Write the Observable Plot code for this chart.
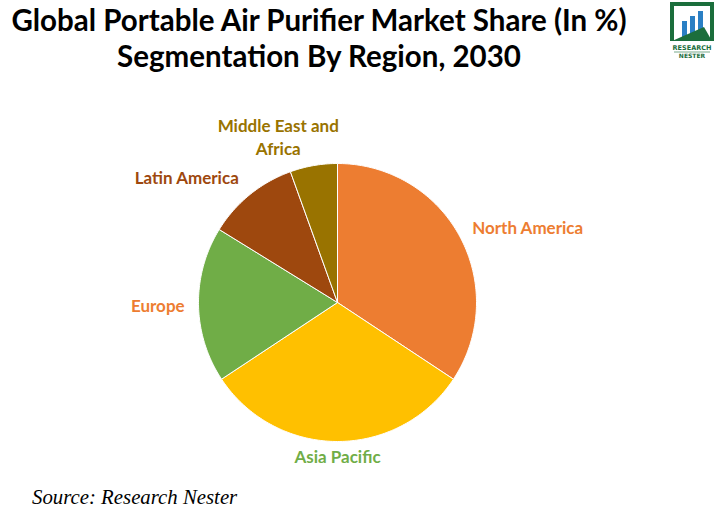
<!DOCTYPE html>
<html>
<head>
<meta charset="utf-8">
<script src="https://cdn.jsdelivr.net/npm/d3@7"></script>
<script src="https://cdn.jsdelivr.net/npm/@observablehq/plot@0.6"></script>
<style>
  html, body { margin: 0; padding: 0; background: #fff; }
  #wrap { position: relative; width: 722px; height: 511px; overflow: hidden; }
  #title { position: absolute; left: 0; top: 2px; width: 638px; text-align: center;
           font-family: Lato, "Open Sans", sans-serif; font-weight: 700; font-size: 29.5px;
           line-height: 36px; color: #000; }
  #source { position: absolute; left: 32px; top: 485px; font-family: "Liberation Serif", serif;
            font-style: italic; font-size: 20.8px; color: #000; }
  #logo { position: absolute; left: 668px; top: 1px; }
  #chart { position: absolute; left: 0; top: 0; }
</style>
</head>
<body>
<div id="wrap">
  <div id="chart"></div>
  <div id="title">Global Portable Air Purifier Market Share (In %)<br>Segmentation By Region, 2030</div>
  <svg id="logo" width="50" height="58" viewBox="0 0 50 58">
    <path d="M4 40 L4 3 L44 3 L44 40" fill="none" stroke="#1b6e3c" stroke-width="4"/>
    <rect x="14" y="20" width="5" height="20" fill="#2a7fc4"/>
    <rect x="22" y="15" width="5" height="25" fill="#2a7fc4"/>
    <rect x="30" y="10" width="5" height="30" fill="#2a7fc4"/>
    <path d="M4 40 L36 26 L44 40 Z" fill="#1b6e3c"/>
    <text x="24" y="49" text-anchor="middle" font-family="DejaVu Sans" font-size="6.5" font-weight="700" fill="#1b6e3c">RESEARCH</text>
    <line x1="6" y1="51" x2="42" y2="51" stroke="#1b6e3c" stroke-width="0.6"/>
    <text x="24" y="57" text-anchor="middle" font-family="DejaVu Sans" font-size="6" font-weight="700" fill="#1b6e3c">NESTER</text>
  </svg>
  <div id="source">Source: Research Nester</div>
</div>
<script>
// ---- data ----
const regions = ["North America", "Asia Pacific", "Europe", "Latin America", "Middle East and Africa"];
const shares = [34.3, 31.4, 18.1, 10.7, 5.5];
const sliceColors = ["#ED7D31", "#FFC000", "#70AD47", "#9E480E", "#997300"];
const labelColors = ["#ED7D31", "#70AD47", "#ED7D31", "#9E480E", "#997300"];

// ---- layout (not data) ----
const W = 722, H = 511, cx = 337, cy = 302, R = 139;
const labelLayout = {
  "North America": {r: 1.1, anchor: "start", dx: 0, dy: -4},
  "Asia Pacific": {r: 1.1, anchor: "middle", dx: 0, dy: 0},
  "Europe": {r: 1.1, anchor: "end", dx: 0, dy: 0},
  "Latin America": {r: 1.15, anchor: "end", dx: 2, dy: -2},
  "Middle East and Africa": {r: 1.1, anchor: "middle", dx: -33, dy: -16}
};

const total = d3.sum(shares);
let acc = 0;
const slices = regions.map((name, i) => {
  const a0 = acc / total * 2 * Math.PI;
  acc += shares[i];
  const a1 = acc / total * 2 * Math.PI;
  return {name, value: shares[i], a0, a1, color: sliceColors[i], labelColor: labelColors[i]};
});

// polygon vertices for each slice (unit circle; y up), derived from angles
const poly = [];
for (const s of slices) {
  poly.push({name: s.name, x: 0, y: 0});
  const n = Math.max(2, Math.ceil((s.a1 - s.a0) / (Math.PI / 180)));
  for (let k = 0; k <= n; k++) {
    const a = s.a0 + (s.a1 - s.a0) * k / n;
    poly.push({name: s.name, x: Math.sin(a), y: Math.cos(a)});
  }
  poly.push({name: s.name, x: 0, y: 0});
}

// label anchor points: along each slice's mid-angle, nudged by pixel offsets converted to data units
const labels = slices.map(s => {
  const L = labelLayout[s.name];
  const m = (s.a0 + s.a1) / 2;
  return {name: s.name,
          x: L.r * Math.sin(m) + L.dx / R,
          y: L.r * Math.cos(m) - L.dy / R,
          anchor: L.anchor, color: s.labelColor,
          text: s.name === "Middle East and Africa" ? "Middle East and\nAfrica" : s.name};
});

const xDom = [-cx / R, (W - cx) / R];
const yDom = [-(H - cy) / R, cy / R];

const chart = Plot.plot({
  width: W, height: H,
  margin: 0,
  x: {domain: xDom, axis: null},
  y: {domain: yDom, axis: null},
  color: {domain: regions, range: sliceColors},
  marks: [
    Plot.line(poly, {x: "x", y: "y", z: "name", fill: "name", stroke: "white", strokeWidth: 1, strokeLinejoin: "round", curve: "linear"}),
    ...["start", "middle", "end"].map(anc =>
      Plot.text(labels.filter(d => d.anchor === anc), {
        x: "x", y: "y", text: "text", textAnchor: anc,
        fill: d => d.color, fontSize: 17, fontWeight: 700, lineHeight: 1.38,
        fontFamily: "Lato, 'Open Sans', sans-serif"
      }))
  ]
});
document.getElementById("chart").appendChild(chart);
</script>
</body>
</html>
